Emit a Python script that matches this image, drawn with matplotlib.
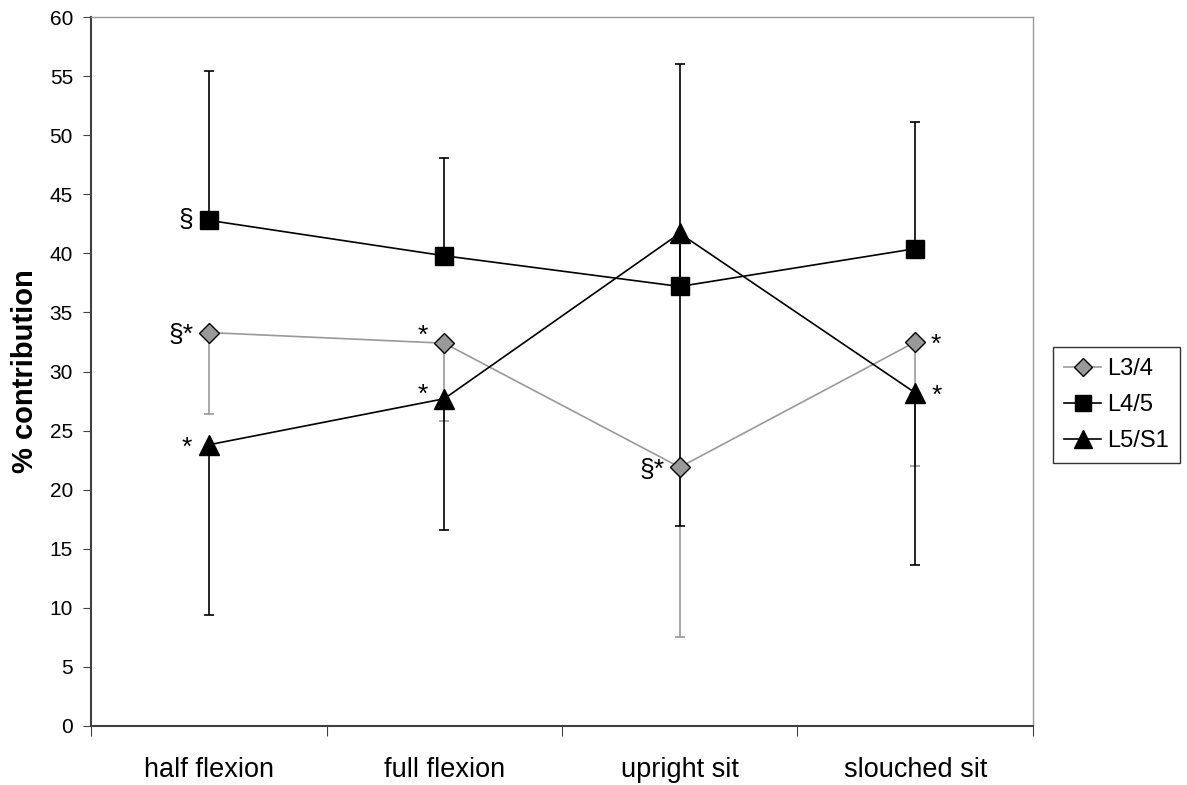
import numpy as np
import matplotlib.pyplot as plt

plt.rcParams['font.family'] = ['Liberation Sans', 'DejaVu Sans']

### data
categories = ['half flexion', 'full flexion', 'upright sit', 'slouched sit']
series = ['L3/4', 'L4/5', 'L5/S1']

l34 = [33.3, 32.4, 21.9, 32.5]
l45 = [42.8, 39.8, 37.2, 40.4]
l51 = [23.8, 27.7, 41.7, 28.2]

# one-sided error bars (end of bar)
l34_low = [26.4, 25.8, 7.5, 22.0]
l45_high = [55.4, 48.1, 56.0, 51.1]
l51_low = [9.4, 16.6, 16.9, 13.6]

# significance marks
l34_marks = ['§*', '*', '§*', '*']
l45_marks = ['§', '', '', '']
l51_marks = ['*', '*', '', '*']

x = np.arange(len(categories)) + 0.5

fig = plt.figure(figsize=(11.87, 7.85), dpi=100)
ax = fig.add_axes([0.0767, 0.0752, 0.7935, 0.903])

gray = '#999999'
cap = 3.6

# error bars first so markers sit on top
ax.errorbar(x, l34, yerr=[np.subtract(l34, l34_low), np.zeros(4)],
            fmt='none', ecolor=gray, elinewidth=1.2, capsize=cap, capthick=1.2, zorder=2)
ax.errorbar(x, l45, yerr=[np.zeros(4), np.subtract(l45_high, l45)],
            fmt='none', ecolor='black', elinewidth=1.2, capsize=cap, capthick=1.2, zorder=2)
ax.errorbar(x, l51, yerr=[np.subtract(l51, l51_low), np.zeros(4)],
            fmt='none', ecolor='black', elinewidth=1.2, capsize=cap, capthick=1.2, zorder=2)

ax.plot(x, l34, color=gray, lw=1.2, marker='D', markersize=10.5,
        markerfacecolor=gray, markeredgecolor='black', markeredgewidth=1,
        label=series[0], zorder=3)
ax.plot(x, l45, color='black', lw=1.2, marker='s', markersize=13,
        markerfacecolor='black', label=series[1], zorder=4)
ax.plot(x, l51, color='black', lw=1.2, marker='^', markersize=15,
        markerfacecolor='black', label=series[2], zorder=4)

## significance text
fs_mark = 19

def mark(val, i, txt, dx, dy, ha):
    if txt:
        ax.annotate(txt, (x[i], val), xytext=(dx, dy), textcoords='offset points',
                    ha=ha, va='center', fontsize=fs_mark)

mark(l34[0], 0, l34_marks[0], -11, -2, 'right')
mark(l34[1], 1, l34_marks[1], -12, 5, 'right')
mark(l34[2], 2, l34_marks[2], -11, -2, 'right')
mark(l34[3], 3, l34_marks[3], 11, -2, 'left')
mark(l45[0], 0, l45_marks[0], -11, 0, 'right')
mark(l51[0], 0, l51_marks[0], -12, -2, 'right')
mark(l51[1], 1, l51_marks[1], -12, 3, 'right')
mark(l51[3], 3, l51_marks[3], 12, -2, 'left')

ax.set_xlim(0, 4)
ax.set_ylim(0, 60)
ax.set_yticks(np.arange(0, 61, 5))
ax.set_xticks(np.arange(0, 5))
ax.set_xticklabels([])
ax.set_xticks(x, minor=True)
ax.set_xticklabels(categories, minor=True, fontsize=19.5)
ax.tick_params(axis='x', which='minor', length=0, pad=22)
ax.tick_params(axis='x', which='major', length=7, direction='out', color='#404040')
ax.tick_params(axis='y', length=6, direction='out', labelsize=15, color='#404040', pad=7)

ax.set_ylabel('% contribution', fontsize=21, fontweight='bold', labelpad=8)

for s in ['top', 'right']:
    ax.spines[s].set_color(gray)
    ax.spines[s].set_linewidth(1)
for s in ['left', 'bottom']:
    ax.spines[s].set_color('#404040')
    ax.spines[s].set_linewidth(1.5)

leg = fig.legend(loc='center left', bbox_to_anchor=(1053 / 1187, 1 - 405 / 785),
                 fontsize=17, frameon=True, fancybox=False, edgecolor='black',
                 handlelength=1.6, borderpad=0.45, labelspacing=0.6, handletextpad=0.25,
                 borderaxespad=0, markerscale=0.9)
leg.get_frame().set_linewidth(1)

fig.savefig('out.png', dpi=100)
